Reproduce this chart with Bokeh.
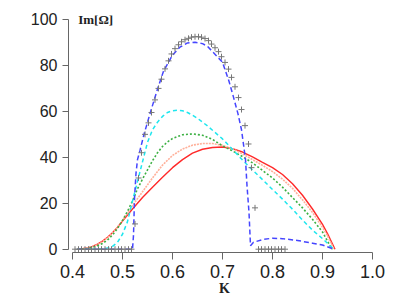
from bokeh.plotting import figure
from bokeh.models import Range1d, Label, FixedTicker
from bokeh.embed import file_html
from bokeh.resources import INLINE
import math

# ---- data ----
x_ticks = [0.4, 0.5, 0.6, 0.7, 0.8, 0.9, 1.0]
x_tick_labels = ["0.4", "0.5", "0.6", "0.7", "0.8", "0.9", "1.0"]
y_ticks = [0, 20, 40, 60, 80, 100]
y_tick_labels = ["0", "20", "40", "60", "80", "100"]

red_k = [0.41, 0.42, 0.43, 0.44, 0.45, 0.46, 0.47, 0.48, 0.49, 0.50, 0.52, 0.54, 0.56, 0.58, 0.60,
         0.62, 0.64, 0.66, 0.68, 0.70, 0.72, 0.74, 0.76, 0.78, 0.80, 0.82, 0.84, 0.86, 0.88, 0.90, 0.91, 0.925]
red_v = [0, 0.2, 0.6, 1.2, 2.2, 3.5, 5.2, 7.2, 9.6, 12.2, 17.5, 22.5, 27, 31.3, 35.5,
         39, 41.8, 43.5, 44.3, 44.5, 43.8, 42.3, 40.2, 37.8, 35.5, 32.5, 28.5, 23.5, 17.5, 10.8, 6.8, 0]

pink_k = [0.41, 0.42, 0.43, 0.44, 0.45, 0.46, 0.47, 0.48, 0.49, 0.50, 0.52, 0.54, 0.56, 0.58, 0.60,
          0.62, 0.64, 0.66, 0.68, 0.70, 0.72, 0.74, 0.76, 0.78, 0.80, 0.82, 0.84, 0.86, 0.88, 0.90, 0.91, 0.923]
pink_v = [0, 0.2, 0.5, 1.1, 2, 3.3, 5, 7.1, 9.6, 12.5, 19, 25, 31, 36.6, 40.8,
          43.6, 45.3, 46, 46, 45.2, 43.7, 41.5, 39, 36.5, 33.8, 30.5, 26.5, 21.5, 16, 9.5, 5.8, 0]

green_k = [0.41, 0.42, 0.43, 0.44, 0.45, 0.46, 0.47, 0.48, 0.49, 0.50, 0.51, 0.52, 0.53, 0.54, 0.55,
           0.56, 0.57, 0.58, 0.59, 0.60, 0.62, 0.64, 0.66, 0.68, 0.70, 0.72, 0.74, 0.76, 0.78, 0.80,
           0.82, 0.84, 0.86, 0.88, 0.90, 0.915, 0.92]
green_v = [0, 0.1, 0.3, 0.8, 1.5, 2.5, 4, 6.2, 9, 12.5, 16.5, 21, 26.3, 30.5, 34.5,
           38.5, 42, 44.7, 46.7, 48.2, 49.8, 50.2, 49.6, 47.8, 45, 42.8, 40.3, 37.6, 34.3, 31,
           27, 22.5, 18, 13, 7.5, 1.5, 0]

cyan_k = [0.41, 0.44, 0.46, 0.47, 0.48, 0.49, 0.50, 0.51, 0.52, 0.53, 0.54, 0.55, 0.56, 0.57, 0.58,
          0.59, 0.60, 0.61, 0.62, 0.63, 0.64, 0.65, 0.66, 0.67, 0.68, 0.69, 0.70, 0.72, 0.74, 0.76,
          0.78, 0.80, 0.82, 0.84, 0.86, 0.88, 0.90, 0.92]
cyan_v = [0, 0, 0.2, 0.5, 1.2, 3, 6.5, 12, 21, 29.5, 38, 46.5, 52, 55.3, 57.8,
          59.5, 60.3, 60.5, 60.3, 59.5, 58.3, 57, 55.3, 53.7, 51.8, 49.9, 48, 43.5, 38.8, 34.5,
          30.3, 26, 21.8, 17.4, 12.7, 8.3, 4.6, 0.5]

blue_k = [0.41, 0.52, 0.522, 0.524, 0.527, 0.53, 0.535, 0.543, 0.555, 0.569, 0.582, 0.60, 0.615,
          0.63, 0.645, 0.66, 0.67, 0.681, 0.70, 0.713, 0.722, 0.731, 0.738, 0.742, 0.746, 0.749,
          0.753, 0.756, 0.762, 0.78, 0.80, 0.82, 0.85, 0.88, 0.90, 0.923]
blue_v = [0, 0, 6, 22, 33, 39, 43, 50, 59, 69, 77.5, 84.5, 88, 89.8, 90.1, 89.5, 88.3, 85.8, 81.4,
          73.1, 66.2, 58.9, 52, 45.6, 39, 27.7, 16, 1.5, 3, 4.2, 4.8, 4.6, 3.8, 2.6, 1.8, 0]

mark_k = [0.405, 0.412, 0.418, 0.425, 0.432, 0.438, 0.445, 0.452, 0.458, 0.465, 0.472, 0.478,
          0.485, 0.492, 0.498, 0.505, 0.512, 0.518,
          0.525, 0.532, 0.538, 0.545, 0.552, 0.558, 0.565, 0.572, 0.578, 0.585, 0.592, 0.598,
          0.605, 0.612, 0.618, 0.625, 0.632, 0.638, 0.645, 0.652, 0.658, 0.665, 0.672, 0.678,
          0.685, 0.692, 0.698, 0.705, 0.712, 0.718, 0.725, 0.732, 0.738, 0.745, 0.752, 0.758,
          0.765, 0.772, 0.778, 0.785, 0.792, 0.798, 0.805, 0.812, 0.818, 0.825]
mark_v = [0, 0, 0, 0, 0, 0, 0, 0, 0, 0, 0, 0,
          0, 0, 0, 0, 0, 0,
          11, 31, 42, 50, 55, 59.5, 65, 70, 74, 78.5, 82, 85,
          87.3, 89, 90.3, 91.2, 91.8, 92.3, 92.5, 92.5, 92.3, 91.7, 90.8, 89.3,
          87.7, 86, 83.8, 81.3, 78.4, 74.8, 70.7, 66, 60.8, 53.8, 45.8, 35.5,
          18, 0, 0, 0, 0, 0, 0, 0, 0, 0]

# ---- figure ----
p = figure(frame_width=312, frame_height=237,
           min_border_left=68, min_border_right=26, min_border_top=15, min_border_bottom=51,
           x_range=Range1d(0.392, 1.016), y_range=Range1d(-1.44, 101.74),
           output_backend="svg", toolbar_location=None)
p.outline_line_color = None
p.xgrid.visible = False
p.ygrid.visible = False
p.background_fill_color = "white"
p.border_fill_color = "white"

axis_col = "#666666"
for ax in (p.xaxis[0], p.yaxis[0]):
    ax.axis_line_color = axis_col
    ax.axis_line_width = 1
    ax.major_tick_line_color = axis_col
    ax.major_tick_in = 0
    ax.minor_tick_line_color = None
    ax.major_label_text_color = "#222222"
    ax.major_label_text_font = "Liberation Sans"
    ax.major_label_standoff = 5

p.xaxis.ticker = FixedTicker(ticks=x_ticks)
p.xaxis.major_label_overrides = {t: l for t, l in zip(x_ticks, x_tick_labels)}
p.xaxis.bounds = (x_ticks[0], x_ticks[-1])
p.xaxis.major_tick_out = 7
p.xaxis.major_label_text_font_size = "18px"
p.xaxis.axis_label = "K"
p.xaxis.axis_label_text_font = "Liberation Serif"
p.xaxis.axis_label_text_font_style = "bold"
p.xaxis.axis_label_text_font_size = "14px"
p.xaxis.axis_label_text_color = "#222222"
p.xaxis.axis_label_standoff = 0

p.yaxis.ticker = FixedTicker(ticks=y_ticks)
p.yaxis.major_label_overrides = {t: l for t, l in zip(y_ticks, y_tick_labels)}
p.yaxis.bounds = (y_ticks[0], y_ticks[-1])
p.yaxis.major_tick_out = 6
p.yaxis.major_label_text_font_size = "16px"

# ---- series ----
p.line(red_k, red_v, line_color="#ff2a2a", line_width=1.4)
p.line(pink_k, pink_v, line_color="#ffb09a", line_width=1.6, line_dash="2 1")
p.line(green_k, green_v, line_color="#3cb043", line_width=1.6, line_dash="2 2")
p.line(cyan_k, cyan_v, line_color="#1ee6ee", line_width=1.5, line_dash="4 3")
p.line(blue_k, blue_v, line_color="#4545ff", line_width=1.5, line_dash="5 3")
p.scatter(mark_k, mark_v, marker="cross", size=6, line_color="#777777", line_width=1)

# ---- texts ----
p.add_layout(Label(x=0.4114, y=100.2, text="Im[Ω]", text_font="Liberation Serif",
                   text_font_style="bold", text_font_size="13px", text_color="#222222",
                   text_align="left", text_baseline="middle"))
p.add_layout(Label(x=0.2873, y=43.6, text="x10", angle=math.pi / 2, text_font="Liberation Sans",
                   text_font_size="15px", text_color="#222222",
                   text_align="center", text_baseline="middle"))
p.add_layout(Label(x=0.2687, y=53.9, text="\u22123", angle=math.pi / 2, text_font="Liberation Sans",
                   text_font_size="11px", text_color="#222222",
                   text_align="center", text_baseline="middle"))

open("out.html", "w").write(file_html(p, INLINE))
